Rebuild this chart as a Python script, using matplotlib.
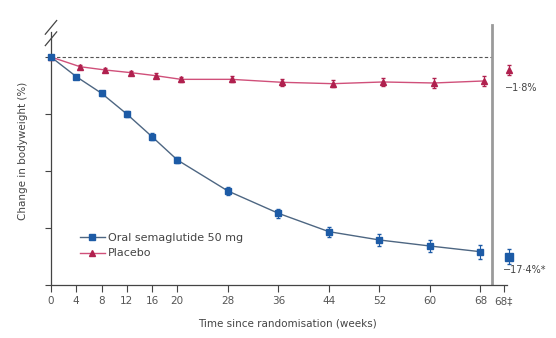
import numpy as np
import matplotlib.pyplot as plt
from matplotlib.lines import Line2D

# data (change in bodyweight, %)
weeks = [0, 4, 8, 12, 16, 20, 28, 36, 44, 52, 60, 68]
sema = [0, -1.72, -3.18, -5.0, -6.99, -9.03, -11.75, -13.71, -15.32, -16.05, -16.58, -17.08]
sema_err = [0, 0.15, 0.2, 0.25, 0.3, 0.3, 0.35, 0.4, 0.45, 0.5, 0.55, 0.6]
placebo = [0, -0.85, -1.14, -1.37, -1.64, -1.96, -1.96, -2.22, -2.34, -2.19, -2.28, -2.1]
placebo_err = [0, 0.12, 0.15, 0.18, 0.2, 0.22, 0.25, 0.3, 0.3, 0.35, 0.4, 0.4]

# end-of-trial estimates (68 weeks, treatment policy)
end_week = 72.5
sema_end, sema_end_err = -17.5, 0.7
placebo_end, placebo_end_err = -1.14, 0.4
sema_end_label = "\u221217\u00b74%*"
placebo_end_label = "\u22121\u00b78%"

xticks = [0, 4, 8, 12, 16, 20, 28, 36, 44, 52, 60, 68, 71.7]
xtick_labels = ["0", "4", "8", "12", "16", "20", "28", "36", "44", "52", "60", "68", "68\u2021"]

blue = "#1d5ba6"
blue_line = "#4d6682"
red = "#b0204e"
red_line = "#d0507a"

fig = plt.figure(figsize=(5.56, 3.38), dpi=100)
ax = fig.add_axes([0.0917, 0.1568, 0.852, 0.7926])

ax.set_xlim(0, 75)
ax.set_ylim(-20, 3.5)

# baseline and separator
ax.plot([0, 69.8], [0, 0], ls=(0, (3, 2)), color="#555555", lw=0.8, zorder=1)
ax.axvline(69.8, ymin=0, ymax=0.97, color="#9a9a9a", lw=2, zorder=1)

# placebo (slight dodge to the right, as in the original)
pw = [w + 0.6 if w > 0 else w for w in weeks]
ax.plot(pw, placebo, color=red_line, lw=1.0, zorder=2)
ax.errorbar(pw, placebo, yerr=placebo_err, fmt="^", color=red, ms=5,
            elinewidth=0.8, capsize=1.5, zorder=3, clip_on=False)
ax.plot(weeks, sema, color=blue_line, lw=1.0, zorder=2)
ax.errorbar(weeks, sema, yerr=sema_err, fmt="s", color=blue, ms=5,
            elinewidth=0.8, capsize=1.5, zorder=4, clip_on=False)

ax.errorbar([end_week], [placebo_end], yerr=[placebo_end_err], fmt="^",
            color=red, ms=5, elinewidth=0.8, capsize=1.5, clip_on=False)
ax.errorbar([end_week], [sema_end], yerr=[sema_end_err], fmt="s",
            color=blue, ms=6, elinewidth=0.8, capsize=1.5, clip_on=False)
ax.text(end_week - 0.6, -2.7, placebo_end_label, fontsize=7, color="#444444",
        va="center", ha="left")
ax.text(end_week - 0.9, -18.7, sema_end_label, fontsize=7, color="#444444",
        va="center", ha="left")

# spines
for s in ["top", "right"]:
    ax.spines[s].set_visible(False)
ax.spines["left"].set_bounds(-20, 2.2)
ax.spines["bottom"].set_bounds(0, 72.2)
for s in ["left", "bottom"]:
    ax.spines[s].set_color("#444444")
    ax.spines[s].set_linewidth(0.9)

# axis break mark
for dy in (1.6, 2.6):
    ax.plot([-0.9, 0.9], [dy - 0.6, dy + 0.6], color="#444444", lw=0.9,
            clip_on=False)

ax.set_xticks(xticks)
ax.set_xticklabels(xtick_labels)
ax.set_yticks([0, -5, -10, -15, -20])
ax.set_yticklabels([])
ax.tick_params(axis="x", length=5, width=0.8, color="#444444",
               labelsize=7.5, labelcolor="#555555", pad=3)
ax.tick_params(axis="y", length=4, width=0.8, color="#444444")

ax.set_xlabel("Time since randomisation (weeks)", fontsize=7.5, color="#444444",
              labelpad=9)
ax.set_ylabel("Change in bodyweight (%)", fontsize=7.5, color="#444444",
              labelpad=9)

handles = [
    Line2D([], [], color=blue_line, lw=1.0, marker="s", ms=5,
           markerfacecolor=blue, markeredgecolor=blue),
    Line2D([], [], color=red_line, lw=1.0, marker="^", ms=5,
           markerfacecolor=red, markeredgecolor=red),
]
ax.legend(handles, ["Oral semaglutide 50 mg", "Placebo"], loc="lower left",
          bbox_to_anchor=(0.045, 0.07), frameon=False, fontsize=8,
          handlelength=2.2, handletextpad=0.3, labelspacing=0.5,
          labelcolor="#444444", borderpad=0.2)

fig.savefig("out.png", dpi=100)
